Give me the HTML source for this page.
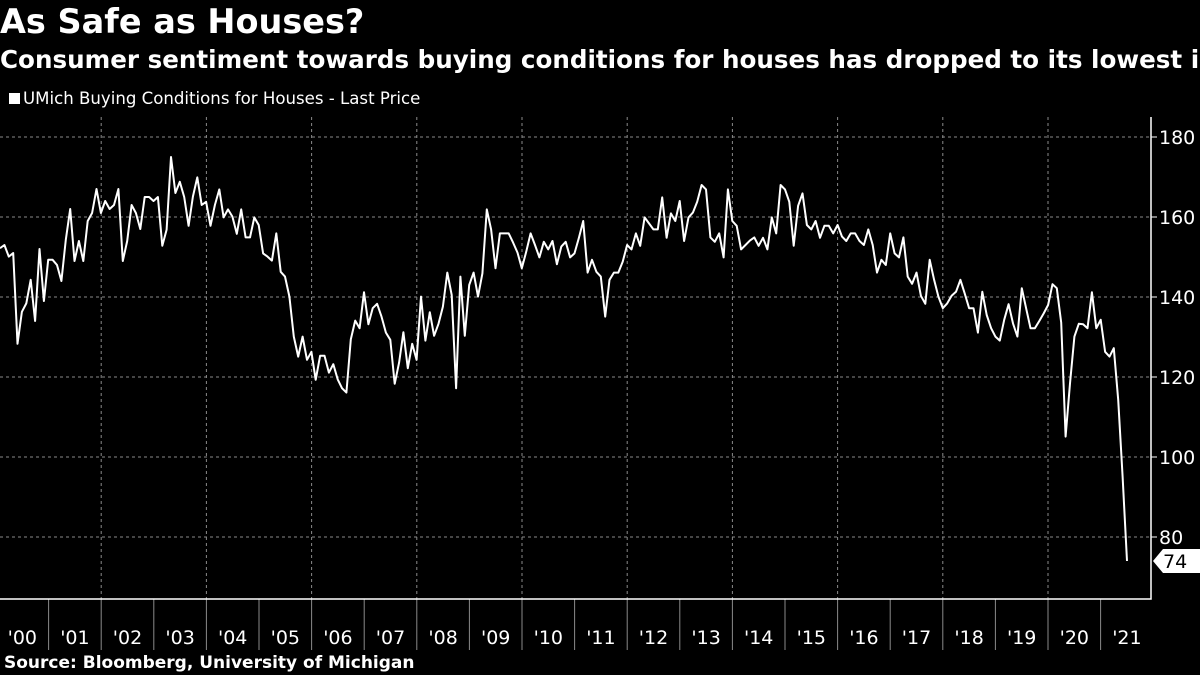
<!DOCTYPE html>
<html><head><meta charset="utf-8"><style>
html,body{margin:0;padding:0;background:#000;width:1200px;height:675px;overflow:hidden}
body{position:relative;font-family:"DejaVu Sans","Liberation Sans",sans-serif;color:#fff}
#title{position:absolute;left:0;top:2px;font-size:33.5px;font-weight:bold;white-space:nowrap}
#subtitle{position:absolute;left:0;top:45px;font-size:24.6px;font-weight:bold;white-space:nowrap;width:1200px;overflow:hidden}
#legend{position:absolute;left:9px;top:89px;font-size:16.6px;white-space:nowrap}
#legend span.sw{display:inline-block;width:11px;height:11px;background:#fff;margin-right:3px;vertical-align:0px}
#source{position:absolute;left:4px;top:653px;font-size:17px;font-weight:bold;white-space:nowrap}
svg{position:absolute;left:0;top:0}
</style></head><body>
<div id="title">As Safe as Houses?</div>
<div id="subtitle">Consumer sentiment towards buying conditions for houses has dropped to its lowest in nearly four decades</div>
<div id="legend"><span class="sw"></span>UMich Buying Conditions for Houses - Last Price</div>
<svg id="chart" width="1200" height="675"></svg>
<div id="source">Source: Bloomberg, University of Michigan</div>
<script>
const values = [152.2,153,150.1,151,128.3,136.3,138.4,144.3,134,152,139,149.3,149.3,148,144,154.3,162,149,154,149,159,161,167,161,164,162,163,167,149,154,163,161,157,165,165,164,165,152.8,156.8,175,166,168.8,165,157.8,
165.1,169.9,163,163.8,157.8,163,166.9,159.9,161.9,160.1,155.8,161.9,154.9,154.9,159.9,158,150.9,150.1,149.1,155.9,146.3,145.1,140.1,130.1,125.1,130.1,124.3,126.3,119.3,125.3,125.3,121.1,123.2,119.4,117.2,116.1,129.4,134.1,132.2,141.2,133.2,137.2,138.3,135.1,
131.1,129.3,118.3,123.6,131.2,122.2,128.3,124.3,140.1,129.1,136.2,130.3,133.3,137.6,146.1,140.5,117.2,145.1,130.3,143,146.1,140.1,145.9,161.9,156.9,147.2,155.9,155.9,155.9,153.6,151.1,147.2,151.3,155.9,153,149.9,153.8,151.9,154,148.2,152.6,153.8,149.9,
150.9,154.7,159,146.1,149.3,146.3,145.1,135.1,144.3,146.1,146.1,148.8,153,151.9,155.9,152.8,159.9,158.4,156.9,156.9,164.9,154.8,160.9,159,164,154,159.9,161.1,163.8,168,166.9,154.9,153.8,155.9,149.9,166.9,159,157.8,151.9,153,154.1,154.9,152.8,154.8,
151.9,159.9,155.9,168,166.9,163.8,152.8,162.8,165.9,158,156.9,159,154.8,157.8,157.8,155.9,158,155.1,154,155.9,155.9,154,153,156.9,153,146.1,149.3,148,155.9,150.9,149.9,154.9,145.1,143.3,146.1,140.3,138.3,149.3,144.3,140.1,137.2,138.4,140.3,
141.3,144.3,140.9,137.2,137.2,131.1,141.3,135.5,132.2,130.1,129.1,134.3,138.2,133.4,130.1,142.2,137.2,132.2,132.2,134,135.9,138,143.2,142.2,133.6,105.1,118.4,130.1,133.3,133.2,132.2,141.2,132.2,134.3,126.3,125.1,127.2,114.3,95.1,74];
const yTicks = [80,100,120,140,160,180];
const years = ["'00","'01","'02","'03","'04","'05","'06","'07","'08","'09","'10","'11","'12","'13","'14","'15","'16","'17","'18","'19","'20","'21"];
const lastLabel = "74";

const svg = document.getElementById('chart');
const NS = 'http://www.w3.org/2000/svg';
const plotL = 0, plotR = 1151, plotT = 117, plotB = 599;
const yScale = v => 137 + (180 - v) * 4;
const xIdx = i => i * (1127 / (values.length - 1));
const xYear = k => -4 + k * 52.6;
function mk(tag, attrs){const e=document.createElementNS(NS,tag);for(const k in attrs)e.setAttribute(k,attrs[k]);svg.appendChild(e);return e;}

yTicks.forEach(v=>{
  const y=yScale(v);
  const g=mk('line',{x1:plotL,x2:plotR,y1:y,y2:y,stroke:'#8a8a8a','stroke-width':1,'stroke-dasharray':'3,3'});
  
  
  const t=mk('line',{x1:plotR,x2:plotR+6,y1:y,y2:y,stroke:'#fff','stroke-width':1});
  
  
  const tx=mk('text',{x:plotR+8,y:y+7,fill:'#fff','font-size':19,'font-family':'"DejaVu Sans","Liberation Sans",sans-serif'});
  tx.textContent=v;
  
  
});
for(let k=2;k<years.length;k+=2){
  const x=xYear(k);
  const g=mk('line',{x1:x,x2:x,y1:plotT,y2:plotB,stroke:'#8a8a8a','stroke-width':1,'stroke-dasharray':'3,3'});
  
  
}
years.forEach((lab,k)=>{
  const x=xYear(k);
  if(k>0){
    const s=mk('line',{x1:x,x2:x,y1:plotB,y2:650,stroke:'#8a8a8a','stroke-width':1});
    
    
  }
  const t=mk('text',{x:x+26.3,y:644,fill:'#fff','font-size':19,'text-anchor':'middle','font-family':'"DejaVu Sans","Liberation Sans",sans-serif'});
  t.textContent=lab;
  
  
});
const ax=mk('path',{d:`M${plotL} ${plotB} H${plotR} V${plotT}`,stroke:'#fff','stroke-width':1.5,fill:'none'});


const d=values.map((v,i)=>(i?'L':'M')+xIdx(i).toFixed(1)+' '+yScale(v).toFixed(1)).join(' ');
const line=mk('path',{d:d,stroke:'#fff','stroke-width':2,fill:'none','stroke-linejoin':'round'});


const ly=yScale(values[values.length-1]);
const tag=mk('path',{d:`M${plotR+2} ${ly} L${plotR+12} ${ly-12} H1200 V${ly+12} H${plotR+12} Z`,fill:'#fff'});


const lt=mk('text',{x:plotR+12,y:ly+7,fill:'#000','font-size':19,'font-family':'"DejaVu Sans","Liberation Sans",sans-serif'});
lt.textContent=lastLabel;


</script>
</body></html>
